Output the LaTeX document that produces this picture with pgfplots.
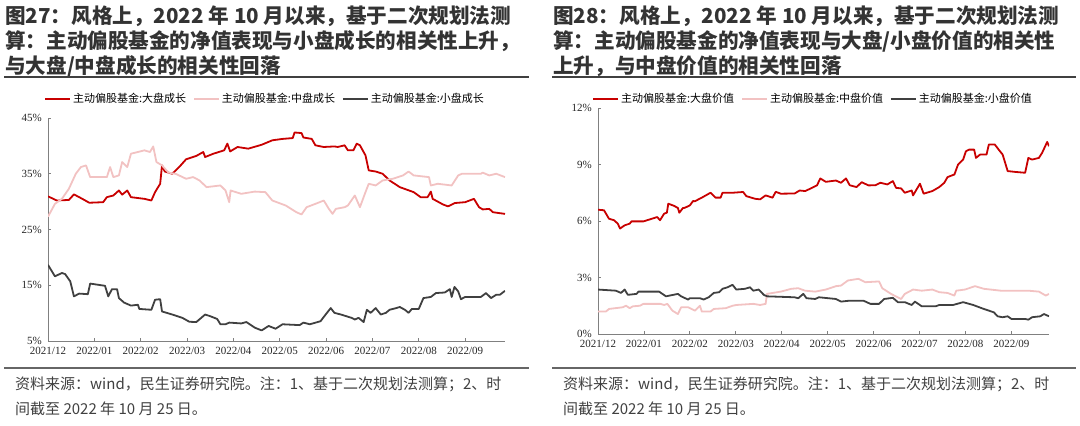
\documentclass[border=0pt]{standalone}
\usepackage{pgfplots}
\pgfplotsset{compat=1.18}
\usepackage{fontspec}
\setmainfont{Liberation Serif}
\newfontfamily\cjk{Noto Sans CJK SC}
\definecolor{cred}{RGB}{200,0,0}
\definecolor{cpink}{RGB}{242,194,194}
\definecolor{cdark}{RGB}{64,64,64}
\definecolor{ctitle}{RGB}{51,51,51}
\definecolor{caxis}{RGB}{128,128,128}

\pgfplotsset{
  panel/.style={
    scale only axis,
    axis lines*=left,
    axis line style={caxis, line width=0.8pt},
    tick style={caxis, line width=0.8pt},
    tick align=inside,
    major tick length=3pt,
    xmin=0,
    xtick={0,1,2,3,4,5,6,7,8,9},
    xticklabels={2021/12,2022/01,2022/02,2022/03,2022/04,2022/05,2022/06,2022/07,2022/08,2022/09},
    ticklabel style={font=\fontsize{11}{13}\selectfont, text=black!85},
    yticklabel style={inner sep=0pt, xshift=-6pt},
    xticklabel style={inner sep=0pt, yshift=-6pt},
    legend columns=3,
    legend cell align=left,
    legend style={draw=none, fill=none, inner sep=0pt,
      font=\cjk\fontsize{11}{13}\selectfont,
      /tikz/every even column/.append style={column sep=5pt}},
    legend image code/.code={\draw[##1] (0pt,0pt) -- (25pt,0pt);},
    every axis plot/.append style={line width=1.8pt, line join=round},
  }
}

\begin{document}
\begin{tikzpicture}[x=1pt,y=1pt]
\path[use as bounding box] (0,0) rectangle (1080,426);

% titles
\begin{scope}[every node/.style={anchor=west, inner sep=0pt, text=ctitle,
    font=\cjk\bfseries\fontsize{20.6}{25}\selectfont}]
\node at (5,410) {图27：风格上，2022 年 10 月以来，基于二次规划法测};
\node at (5,385) {算：主动偏股基金的净值表现与小盘成长的相关性上升，};
\node at (5,360) {与大盘/中盘成长的相关性回落};
\node at (553,410) {图28：风格上，2022 年 10 月以来，基于二次规划法测};
\node at (553,385) {算：主动偏股基金的净值表现与大盘/小盘价值的相关性};
\node at (553,360) {上升，与中盘价值的相关性回落};
\end{scope}
\draw[cdark, line width=2pt] (4,349) -- (529,349);
\draw[cdark, line width=2pt] (552,349) -- (1076,349);
\draw[cdark!80, line width=1.6pt] (4,58) -- (529,58);
\draw[cdark!80, line width=1.6pt] (552,58) -- (1076,58);

% footnotes
\begin{scope}[every node/.style={anchor=west, inner sep=0pt, text=cdark,
    font=\cjk\fontsize{15}{18}\selectfont}]
\node at (15,42) {资料来源：wind，民生证券研究院。注：1、基于二次规划法测算；2、时};
\node at (15,17) {间截至 2022 年 10 月 25 日。};
\node at (563,42) {资料来源：wind，民生证券研究院。注：1、基于二次规划法测算；2、时};
\node at (563,17) {间截至 2022 年 10 月 25 日。};
\end{scope}

% left panel
\begin{axis}[panel, at={(48pt,85pt)}, anchor=south west,
  width=457pt, height=223pt, xmax=9.86, ymin=5, ymax=45,
  ytick={5,15,25,35,45}, yticklabels={5\%,15\%,25\%,35\%,45\%},
  legend style={at={(axis description cs:0.475,1.085)}, anchor=center}]
\addplot[cred] coordinates {
(0,30.95)(0.19,30.2)(0.45,30.3)(0.56,31.3)(0.74,30.5)(0.89,29.8)(1.19,29.9)(1.27,30.8)
(1.41,31.1)(1.53,32)(1.60,31.25)(1.71,32)(1.79,30.8)(2.08,30.5)(2.23,30.2)(2.31,31.7)
(2.42,33.2)(2.46,36.5)(2.52,35.4)(2.68,35)(2.83,36.2)(2.98,37.6)(3.20,38.2)(3.35,38.9)
(3.39,38)(3.57,38.6)(3.80,39.2)(3.87,40.4)(3.93,39)(4.09,39.8)(4.32,39.5)(4.61,40.2)
(4.84,41)(5.06,41.25)(5.28,41.4)(5.32,42.4)(5.47,42.3)(5.51,41.5)(5.69,41.25)(5.77,40.1)
(5.95,39.8)(6.18,39.9)(6.25,39.8)(6.40,40.1)(6.47,39.2)(6.59,39.2)(6.66,40.4)(6.73,40.1)
(6.85,38.3)(6.92,35.6)(7.07,35.4)(7.22,35)(7.37,33.8)(7.59,32.6)(7.89,31.7)(8.04,30.8)
(8.19,30.8)(8.26,31.8)(8.30,30.5)(8.52,29.5)(8.63,29.15)(8.78,29.75)(9.00,29.9)(9.19,30.5)
(9.30,29)(9.38,28.6)(9.52,28.7)(9.60,28.1)(9.86,27.8)};
\addlegendentry{主动偏股基金:大盘成长}
\addplot[cpink] coordinates {
(0,27.3)(0.15,29.6)(0.30,30.5)(0.45,32.3)(0.60,35)(0.71,36.2)(0.82,36.5)(0.91,34.4)
(1.27,34.4)(1.34,36.2)(1.41,34.4)(1.53,34.7)(1.60,37.1)(1.71,36.2)(1.79,38.6)(1.94,38.9)
(2.08,39.2)(2.20,38.9)(2.27,39.9)(2.34,37.1)(2.46,36.5)(2.60,35.2)(2.75,35)(2.98,34.1)
(3.13,34.4)(3.27,33.8)(3.42,32.6)(3.72,32.9)(3.83,32)(3.91,29.9)(3.94,32)(4.17,31.4)
(4.46,31.8)(4.69,31.7)(4.84,30.2)(5.13,29.3)(5.36,28.1)(5.47,27.7)(5.58,29)(5.80,29.7)
(5.95,30.2)(6.06,28.7)(6.14,27.8)(6.21,28.7)(6.40,29)(6.47,29.3)(6.62,31.1)(6.73,29)
(6.85,31.7)(6.92,33.2)(7.07,32.9)(7.22,33.8)(7.44,34.1)(7.66,34.7)(7.78,35.4)(7.89,34.7)
(8.22,34.4)(8.26,32.9)(8.41,33.2)(8.71,32.9)(8.85,34.7)(8.93,35)(9.34,35)(9.38,35.2)
(9.52,34.7)(9.67,35)(9.86,34.4)};
\addlegendentry{主动偏股基金:中盘成长}
\addplot[cdark] coordinates {
(0,18.65)(0.15,16.6)(0.30,17.2)(0.37,17.0)(0.48,15.7)(0.56,13.0)(0.67,13.5)(0.86,13.4)
(0.91,15.3)(1.23,14.9)(1.30,13.0)(1.38,14.3)(1.49,14.3)(1.53,12.7)(1.64,11.9)(1.79,11.35)
(1.94,11.5)(1.97,10.75)(2.23,10.6)(2.31,12.4)(2.42,12.5)(2.46,10.3)(2.68,9.75)(2.90,9.15)
(3.05,8.45)(3.20,8.4)(3.39,9.75)(3.50,9.45)(3.65,8.95)(3.72,8.0)(3.83,8.0)(3.91,8.3)
(4.17,8.15)(4.28,8.4)(4.46,7.4)(4.61,6.9)(4.76,7.7)(4.91,7.2)(5.06,8.0)(5.43,7.85)
(5.51,8.3)(5.65,8.0)(5.88,8.55)(5.99,9.75)(6.10,10.9)(6.18,10.05)(6.32,9.75)(6.55,9.15)
(6.62,8.85)(6.70,9.15)(6.81,8.4)(6.88,10.6)(6.96,10.05)(7.07,10.9)(7.18,9.75)(7.29,10.05)
(7.37,10.6)(7.51,10.9)(7.59,11.1)(7.70,10.6)(7.78,10.05)(7.85,10.75)(8.00,10.75)(8.10,12.7)
(8.26,12.9)(8.37,13.6)(8.56,13.7)(8.67,14.3)(8.71,12.9)(8.77,14.7)(8.85,13.9)(8.91,12.5)
(9.00,12.9)(9.34,12.9)(9.45,13.6)(9.56,12.7)(9.67,13.3)(9.75,13.3)(9.86,14.0)};
\addlegendentry{主动偏股基金:小盘成长}
\end{axis}

% right panel
\begin{axis}[panel, at={(598pt,92pt)}, anchor=south west,
  width=451pt, height=226pt, xmax=9.82, ymin=0, ymax=12,
  ytick={0,3,6,9,12}, yticklabels={0\%,3\%,6\%,9\%,12\%},
  legend style={at={(axis description cs:0.477,1.04)}, anchor=center}]
\addplot[cred] coordinates {
(0,6.6)(0.13,6.57)(0.24,6.12)(0.35,6.04)(0.43,5.86)(0.48,5.6)(0.58,5.77)(0.69,5.86)
(0.73,5.98)(0.99,5.98)(1.29,6.21)(1.35,6.04)(1.44,6.39)(1.50,6.44)(1.53,6.92)(1.66,6.8)
(1.74,6.69)(1.77,6.44)(1.85,6.69)(1.89,6.7)(2.00,6.83)(2.07,7.06)(2.11,7.05)(2.26,7.24)
(2.45,7.5)(2.56,7.24)(2.67,7.24)(2.71,7.5)(2.93,7.5)(3.16,7.54)(3.23,7.32)(3.42,7.18)
(3.53,7.15)(3.65,7.36)(3.80,7.24)(3.87,7.55)(3.98,7.45)(4.28,7.46)(4.39,7.62)(4.51,7.59)
(4.66,7.76)(4.77,7.9)(4.84,8.26)(4.96,8.08)(5.18,8.15)(5.29,8.03)(5.40,8.26)(5.48,7.9)
(5.63,7.8)(5.74,8.06)(5.89,7.89)(6.04,7.9)(6.15,8.03)(6.30,7.94)(6.42,8.12)(6.49,7.76)
(6.60,7.73)(6.68,7.5)(6.83,7.62)(6.86,7.36)(7.01,7.98)(7.09,7.45)(7.28,7.59)(7.43,7.8)
(7.54,8.03)(7.61,8.33)(7.76,8.47)(7.84,9.0)(7.95,9.26)(8.01,9.7)(8.08,9.79)(8.19,9.79)
(8.23,9.35)(8.32,9.53)(8.46,9.53)(8.51,10.06)(8.64,10.06)(8.74,9.74)(8.81,9.53)(8.92,8.65)
(9.07,8.61)(9.30,8.56)(9.37,9.35)(9.45,9.26)(9.60,9.35)(9.67,9.62)(9.78,10.2)(9.82,9.97)};
\addlegendentry{主动偏股基金:大盘价值}
\addplot[cpink] coordinates {
(0,1.19)(0.17,1.19)(0.24,1.33)(0.54,1.42)(0.61,1.5)(0.69,1.37)(0.76,1.47)(0.91,1.5)
(0.99,1.6)(1.36,1.6)(1.44,1.54)(1.51,1.6)(1.62,1.24)(1.74,1.06)(1.81,1.42)(1.96,1.42)
(2.11,1.24)(2.22,1.5)(2.26,1.19)(2.45,1.19)(2.52,1.33)(2.78,1.37)(2.93,1.5)(3.01,1.54)
(3.38,1.6)(3.53,1.54)(3.65,1.6)(3.68,2.13)(3.98,2.25)(4.21,2.4)(4.36,2.43)(4.51,2.3)
(4.73,2.25)(4.96,2.36)(5.18,2.54)(5.29,2.57)(5.44,2.84)(5.67,2.93)(5.82,2.75)(6.12,2.79)
(6.19,2.43)(6.38,2.13)(6.60,1.86)(6.68,2.13)(6.86,2.36)(7.05,2.3)(7.28,2.36)(7.43,2.22)
(7.61,2.18)(7.76,2.04)(7.80,2.3)(7.99,2.36)(8.21,2.54)(8.40,2.4)(8.77,2.3)(9.37,2.3)
(9.60,2.25)(9.75,2.04)(9.82,2.13)};
\addlegendentry{主动偏股基金:中盘价值}
\addplot[cdark] coordinates {
(0,2.36)(0.39,2.3)(0.50,2.18)(0.58,2.36)(0.65,2.08)(0.84,2.13)(0.88,2.25)(1.33,2.25)
(1.48,2.0)(1.74,2.13)(1.81,2.0)(1.96,1.83)(2.00,1.9)(2.22,1.9)(2.30,1.83)(2.41,1.95)
(2.52,2.18)(2.64,2.22)(2.71,2.4)(2.82,2.48)(2.93,2.61)(3.01,2.36)(3.20,2.4)(3.31,2.48)
(3.38,2.3)(3.50,2.36)(3.61,2.08)(3.68,2.0)(4.28,1.95)(4.36,1.9)(4.47,2.13)(4.54,1.9)
(4.73,1.86)(4.81,1.95)(5.18,1.86)(5.29,1.72)(5.48,1.77)(5.78,1.77)(5.93,1.6)(6.12,1.6)
(6.23,1.86)(6.42,1.92)(6.53,1.69)(6.68,1.69)(6.83,1.54)(6.90,1.72)(7.05,1.47)(7.35,1.47)
(7.43,1.54)(7.73,1.54)(7.95,1.69)(8.17,1.54)(8.40,1.33)(8.62,1.15)(8.70,0.94)(8.81,0.89)
(8.92,0.94)(9.00,0.8)(9.30,0.8)(9.37,0.76)(9.45,0.89)(9.63,0.94)(9.71,1.06)(9.82,0.94)};
\addlegendentry{主动偏股基金:小盘价值}
\end{axis}
\end{tikzpicture}
\end{document}
